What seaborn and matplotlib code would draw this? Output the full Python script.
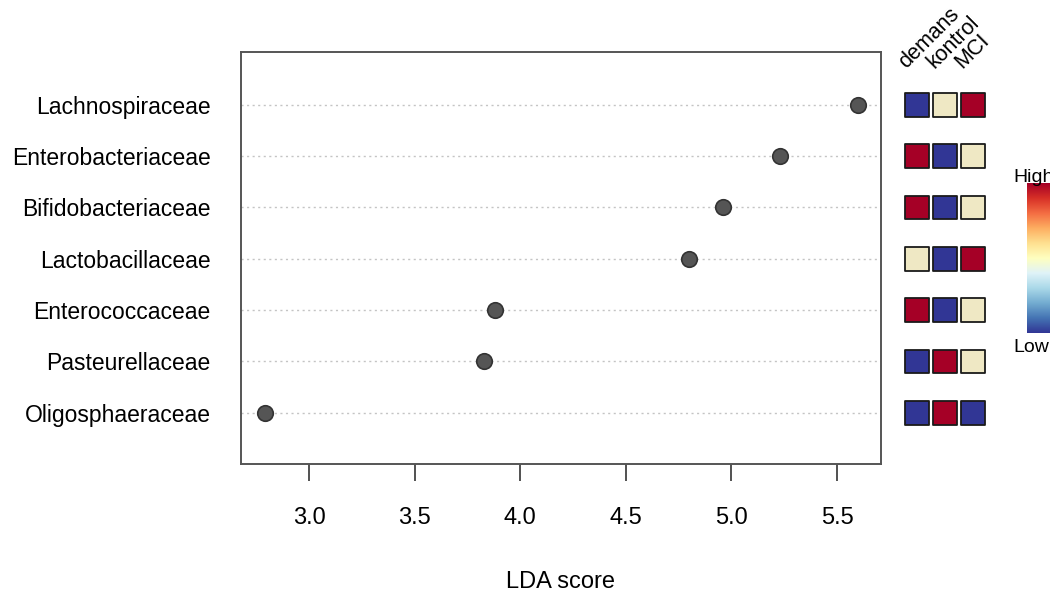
import numpy as np
import pandas as pd
import matplotlib
matplotlib.use("Agg")
import matplotlib.pyplot as plt
import seaborn as sns

# Taxa ranked by LDA score (top to bottom)
taxa = ["Lachnospiraceae", "Enterobacteriaceae", "Bifidobacteriaceae",
        "Lactobacillaceae", "Enterococcaceae", "Pasteurellaceae",
        "Oligosphaeraceae"]
lda_score = [5.60, 5.23, 4.96, 4.80, 3.88, 3.83, 2.79]

# Groups and relative abundance level per taxon (0 = low, 1 = mid, 2 = high)
groups = ["demans", "kontrol", "MCI"]
demans = [0, 2, 2, 1, 2, 0, 0]
kontrol = [1, 0, 0, 0, 0, 2, 2]
mci = [2, 1, 1, 2, 1, 1, 0]

x_ticks = [3.0, 3.5, 4.0, 4.5, 5.0, 5.5]

level_colors = {0: "#313695", 1: "#EFE8C4", 2: "#A50026"}

sns.set_theme(style="white")
plt.rcParams["font.family"] = ["Liberation Sans", "DejaVu Sans"]
plt.rcParams["text.color"] = "black"
plt.rcParams["axes.labelcolor"] = "black"
plt.rcParams["xtick.color"] = "black"
plt.rcParams["ytick.color"] = "black"

W, H = 1050, 594
fig = plt.figure(figsize=(W / 100, H / 100), dpi=100)


def px_axes(x0, y0, x1, y1):
    return fig.add_axes([x0 / W, 1 - y1 / H, (x1 - x0) / W, (y1 - y0) / H])


n = len(taxa)
df = pd.DataFrame({"taxon": taxa, "lda": lda_score,
                   "row": [n - i for i in range(n)]})

# Dot chart of LDA scores
ax = px_axes(241, 52, 881, 464)
for r in df["row"]:
    ax.axhline(r, color="#C4C4C4", lw=1.0, ls=(0, (1.5, 2.5)), zorder=1)
sns.scatterplot(data=df, x="lda", y="row", ax=ax, s=125, color="#555555",
                edgecolor="#333333", linewidth=1.2, zorder=3, legend=False)
ax.set_xlim(2.678, 5.708)
ax.set_ylim(0, 8.03)
ax.set_xticks(x_ticks)
ax.set_xticklabels([f"{t:.1f}" for t in x_ticks], fontsize=17)
ax.set_yticks(df["row"])
ax.set_yticklabels(df["taxon"], fontsize=16.5)
ax.tick_params(axis="x", direction="out", length=12, width=1.1,
               color="#222222", pad=19, bottom=True)
ax.tick_params(axis="y", length=0, pad=22)
ax.set_xlabel("LDA score", fontsize=17, labelpad=30)
ax.set_ylabel("")
for sp in ax.spines.values():
    sp.set_visible(True)
    sp.set_color("#555555")
    sp.set_linewidth(1.4)

# Group abundance squares
long = pd.DataFrame({
    "row": list(df["row"]) * 3,
    "col": np.repeat(np.arange(3), n),
    "level": demans + kontrol + mci,
})
hax = px_axes(903, 52, 987, 464)
sns.scatterplot(data=long, x="col", y="row", hue="level", palette=level_colors,
                marker="s", s=290, edgecolor="#1A1A1A", linewidth=1.3,
                ax=hax, legend=False)
hax.set_xlim(-0.5, 2.5)
hax.set_ylim(0, 8.03)
hax.axis("off")
for j, g in enumerate(groups):
    hax.annotate(g, xy=(j, 7), xycoords="data", xytext=(-11, 36),
                 textcoords="offset pixels", rotation=45,
                 rotation_mode="anchor", ha="left", va="baseline",
                 fontsize=15.5, annotation_clip=False)

# Colour key
cax = px_axes(1027, 183, 1050, 333)
grad = np.linspace(1, 0, 256).reshape(-1, 1)
cax.imshow(grad, aspect="auto", cmap="RdYlBu_r")
cax.axis("off")
fig.text(1013 / W, 1 - 182 / H, "High", fontsize=14, ha="left", va="baseline")
fig.text(1013 / W, 1 - 352 / H, "Low", fontsize=14, ha="left", va="baseline")

fig.savefig("out.png", dpi=100)
